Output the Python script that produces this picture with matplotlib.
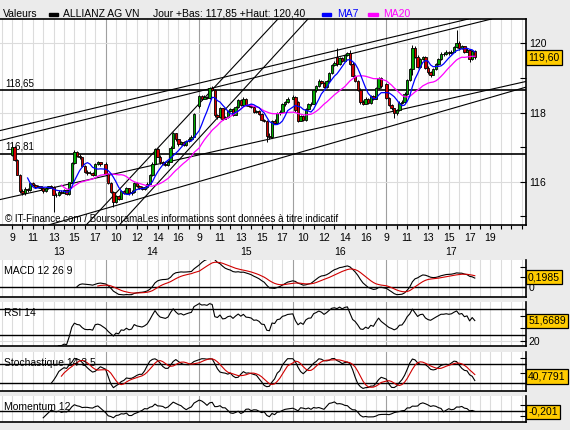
import numpy as np
import pandas as pd
import matplotlib
matplotlib.use("Agg")
import matplotlib.pyplot as plt
from matplotlib.patches import Rectangle
from matplotlib.transforms import blended_transform_factory

plt.rcParams["font.family"] = ["Liberation Sans", "DejaVu Sans"]

W, H = 570, 430
BG = "#EBEBEB"
GRID = "#DCDCDC"
DAY_GRID = "#A0A0A0"
GREEN = "#00AA00"
RED = "#D00000"
BOX = "#FFCC00"

# --- data: ALLIANZ AG VN, 15 min candles, 5 sessions ---
days = ["13", "14", "15", "16", "17"]
candle_hours = [9 + 0.25 * k for k in range(35)]  # 9:00 .. 17:30

opens = [
    116.78, 117.00, 116.62, 116.20, 115.72, 115.66, 115.78, 115.74, 115.95, 115.90, 115.84, 115.86,
    115.80, 115.72, 115.80, 115.86, 115.84, 115.62, 115.60, 115.70, 115.68, 115.74, 115.64, 115.98,
    116.55, 116.86, 116.74, 116.70, 116.45, 116.28, 116.25, 116.26, 116.20, 116.52, 116.56,
    116.50, 116.22, 115.95, 115.70, 115.42, 115.58, 115.50, 115.72, 115.68, 115.80, 115.66, 115.70,
    115.96, 115.86, 115.82, 115.78, 115.84, 115.94, 116.18, 116.52, 116.94, 116.72, 116.56, 116.52,
    116.48, 116.58, 116.98, 117.40, 117.22, 117.08, 117.14, 117.06, 117.16, 117.24, 117.30,
    118.18, 118.48, 118.40, 118.45, 118.42, 118.70, 118.66, 117.92, 117.86, 118.12, 117.82, 117.86,
    118.04, 118.10, 117.94, 118.16, 118.36, 118.22, 118.40, 118.22, 118.20, 118.16, 118.02, 118.04,
    117.96, 117.78, 117.76, 117.32, 117.28, 117.74, 117.70, 117.98, 118.02, 118.24, 118.30,
    118.40, 118.45, 118.30, 117.76, 117.90, 117.78, 118.10, 118.24, 118.26, 118.64, 118.76, 118.92,
    118.86, 118.74, 118.90, 119.14, 119.38, 119.60, 119.40, 119.58, 119.50, 119.66, 119.72, 119.42,
    119.06, 118.92, 118.66, 118.30, 118.26, 118.40, 118.28, 118.48, 118.40, 118.70, 119.00,
    118.84, 118.42, 118.22, 118.12, 117.98, 118.06, 118.28, 118.30, 118.55, 118.95, 119.25, 119.88,
    119.62, 119.32, 119.55, 119.60, 119.30, 119.16, 119.10, 119.25, 119.40, 119.55, 119.70, 119.70,
    119.75, 119.72, 119.76, 119.90, 120.02, 119.86, 119.92, 119.76, 119.82, 119.55, 119.78,
]
highs = [
    117.05, 117.04, 116.66, 116.22, 115.78, 115.84, 115.82, 115.98, 115.98, 115.92, 115.90, 115.88,
    115.82, 115.84, 115.88, 115.90, 115.86, 115.66, 115.74, 115.74, 115.78, 115.76, 116.00, 116.58,
    116.90, 116.88, 116.80, 116.72, 116.48, 116.32, 116.30, 116.28, 116.55, 116.60, 116.58,
    116.56, 116.26, 115.98, 115.72, 115.62, 115.62, 115.76, 115.76, 115.84, 115.82, 115.74, 116.00,
    115.98, 115.90, 115.86, 115.88, 115.98, 116.22, 116.56, 116.98, 116.96, 116.76, 116.60, 116.56,
    116.62, 117.02, 117.44, 117.42, 117.24, 117.18, 117.16, 117.20, 117.28, 117.34, 118.00,
    118.52, 118.50, 118.50, 118.48, 118.74, 118.76, 118.68, 117.96, 118.16, 118.14, 117.90, 118.08,
    118.14, 118.12, 118.20, 118.40, 118.38, 118.44, 118.42, 118.26, 118.24, 118.18, 118.08, 118.06,
    117.98, 117.82, 117.78, 117.40, 117.78, 117.80, 118.02, 118.06, 118.28, 118.34, 118.44,
    118.50, 118.48, 118.34, 117.94, 117.92, 118.14, 118.28, 118.30, 118.68, 118.80, 118.96, 118.94,
    118.88, 118.94, 119.18, 119.42, 119.50, 119.87, 119.62, 119.60, 119.70, 119.76, 119.80, 119.46,
    119.10, 118.94, 118.70, 118.36, 118.44, 118.42, 118.52, 118.50, 118.74, 119.04, 119.02,
    118.86, 118.44, 118.24, 118.14, 118.10, 118.32, 118.36, 118.58, 118.98, 119.28, 119.95, 119.94,
    119.66, 119.58, 119.64, 119.64, 119.34, 119.20, 119.28, 119.44, 119.58, 119.74, 119.74, 119.80,
    119.78, 119.80, 119.94, 120.40, 120.06, 119.96, 119.94, 119.86, 119.84, 119.82, 119.80,
]
lows = [
    116.74, 116.60, 116.18, 115.68, 115.60, 115.62, 115.70, 115.72, 115.86, 115.80, 115.80, 115.76,
    115.68, 115.70, 115.78, 115.80, 115.12, 115.55, 115.58, 115.64, 115.66, 115.60, 115.62, 115.96,
    116.52, 116.70, 116.66, 116.42, 116.24, 116.20, 116.22, 116.16, 116.18, 116.48, 116.46,
    116.20, 115.92, 115.68, 115.25, 115.38, 115.46, 115.48, 115.64, 115.66, 115.62, 115.62, 115.68,
    115.84, 115.78, 115.74, 115.76, 115.82, 115.92, 116.16, 116.50, 116.70, 116.52, 116.48, 116.44,
    116.46, 116.56, 116.96, 117.18, 117.04, 117.06, 117.02, 117.04, 117.14, 117.20, 117.28,
    118.14, 118.36, 118.38, 118.38, 118.40, 118.62, 117.88, 117.82, 117.84, 117.78, 117.80, 117.84,
    118.02, 117.90, 117.92, 118.14, 118.20, 118.20, 118.20, 118.16, 118.12, 117.98, 118.00, 117.92,
    117.74, 117.72, 117.15, 117.24, 117.26, 117.66, 117.68, 117.94, 118.00, 118.20, 118.28,
    118.38, 118.02, 117.72, 117.74, 117.74, 117.76, 118.08, 118.20, 118.24, 118.60, 118.74, 118.82,
    118.70, 118.72, 118.88, 119.12, 119.36, 119.36, 119.38, 119.46, 119.48, 119.64, 119.38, 119.02,
    118.88, 118.62, 118.26, 118.22, 118.24, 118.24, 118.26, 118.36, 118.38, 118.68, 118.72,
    118.40, 118.20, 118.08, 117.85, 117.94, 118.04, 118.24, 118.28, 118.52, 118.92, 119.10, 119.58,
    119.28, 119.30, 119.52, 119.26, 119.12, 119.02, 119.08, 119.22, 119.38, 119.52, 119.64, 119.68,
    119.66, 119.70, 119.74, 119.88, 119.82, 119.84, 119.72, 119.74, 119.45, 119.52, 119.56,
]
closes = [
    117.00, 116.62, 116.20, 115.72, 115.66, 115.78, 115.74, 115.95, 115.90, 115.84, 115.86, 115.80,
    115.72, 115.80, 115.86, 115.84, 115.62, 115.60, 115.70, 115.68, 115.74, 115.64, 115.98, 116.55,
    116.86, 116.74, 116.70, 116.45, 116.28, 116.25, 116.26, 116.20, 116.52, 116.56, 116.50,
    116.22, 115.95, 115.70, 115.42, 115.58, 115.50, 115.72, 115.68, 115.80, 115.66, 115.70, 115.96,
    115.86, 115.82, 115.78, 115.84, 115.94, 116.18, 116.52, 116.94, 116.72, 116.56, 116.52, 116.48,
    116.58, 116.98, 117.40, 117.22, 117.08, 117.14, 117.06, 117.16, 117.24, 117.30, 117.96,
    118.48, 118.40, 118.45, 118.42, 118.70, 118.66, 117.92, 117.86, 118.12, 117.82, 117.86, 118.04,
    118.10, 117.94, 118.16, 118.36, 118.22, 118.40, 118.22, 118.20, 118.16, 118.02, 118.04, 117.96,
    117.78, 117.76, 117.32, 117.28, 117.74, 117.70, 117.98, 118.02, 118.24, 118.30, 118.40,
    118.45, 118.06, 117.76, 117.90, 117.78, 118.10, 118.24, 118.26, 118.64, 118.76, 118.92, 118.86,
    118.74, 118.90, 119.14, 119.38, 119.44, 119.40, 119.58, 119.50, 119.66, 119.72, 119.42, 119.06,
    118.92, 118.66, 118.30, 118.26, 118.40, 118.28, 118.48, 118.40, 118.70, 119.00, 118.76,
    118.42, 118.22, 118.12, 117.98, 118.06, 118.28, 118.30, 118.55, 118.95, 119.25, 119.88, 119.62,
    119.32, 119.55, 119.60, 119.30, 119.16, 119.10, 119.25, 119.40, 119.55, 119.70, 119.70, 119.75,
    119.72, 119.76, 119.90, 120.02, 119.86, 119.92, 119.76, 119.82, 119.55, 119.78, 119.60,
]

# support / resistance levels and drawn trend lines (time slot, price)
levels = [118.65, 116.81]
trend_lines = [
    ((-0.96, 117.49), (35.38, 120.10)),
    ((-0.96, 117.20), (35.38, 119.91)),
    ((-0.96, 115.49), (49.13, 118.88)),
    ((16.15, 115.84), (49.13, 118.71)),
    ((8.46, 115.17), (25.48, 120.68)),
    ((11.63, 115.17), (28.37, 120.68)),
]

# last values shown in the boxes
last_price = 119.60
last_macd = 0.1985
last_rsi = 51.6689
last_stoch = 40.7791
last_mom = -0.201


def px_rect(x0, y0, x1, y1):
    """Pixel box (top-left origin) -> figure fraction rect."""
    return [x0 / W, 1 - y1 / H, (x1 - x0) / W, (y1 - y0) / H]


def fmt(v, nd):
    return f"{v:.{nd}f}".replace(".", ",")


df = pd.DataFrame({"open": opens, "high": highs, "low": lows, "close": closes})
df["day"] = np.repeat(np.arange(len(days)), len(candle_hours))
df["hour"] = np.tile(candle_hours, len(days))
df["t"] = df["day"] * 9 + (df["hour"] - 9)

c = df["close"]
ma7 = c.rolling(7).mean()
ma20 = c.rolling(20).mean()

macd = c.ewm(span=12, adjust=False).mean() - c.ewm(span=26, adjust=False).mean()
signal = macd.ewm(span=9, adjust=False).mean()
macd[:25] = np.nan
signal[:33] = np.nan

delta = c.diff()
gain = delta.clip(lower=0).ewm(alpha=1 / 14, adjust=False).mean()
loss = (-delta.clip(upper=0)).ewm(alpha=1 / 14, adjust=False).mean()
rsi = 100 - 100 / (1 + gain / loss)
rsi[:14] = np.nan

ll = df["low"].rolling(14).min()
hh = df["high"].rolling(14).max()
stoch_k = (100 * (c - ll) / (hh - ll)).rolling(3).mean()
stoch_d = stoch_k.rolling(5).mean()

mom = c - c.shift(12)

XMIN, XMAX = -12 / 10.4, 514 / 10.4

fig = plt.figure(figsize=(W / 100, H / 100), dpi=100, facecolor=BG)


def setup_panel(ax, ylim):
    ax.set_facecolor("white")
    ax.set_xlim(XMIN, XMAX)
    ax.set_ylim(*ylim)
    ax.spines["left"].set_visible(False)
    ax.spines["top"].set_visible(False)
    for s in ("right", "bottom"):
        ax.spines[s].set_linewidth(1.2)
    for t in range(-1, 50):
        ax.axvline(t, color=DAY_GRID if t in (9, 18, 27, 36) else GRID, lw=0.8, zorder=0)
    ax.yaxis.tick_right()
    ax.tick_params(axis="y", direction="in", length=4, width=0.8, labelsize=7.5, pad=2)
    ax.set_xticks([])


# --- main price panel ---
ax = fig.add_axes(px_rect(0, 19, 526, 225))
setup_panel(ax, (114.74, 120.71))
ax.spines["top"].set_visible(True)
ax.spines["top"].set_linewidth(1.2)
for lv in (116, 118, 120):
    ax.axhline(lv, color=GRID, lw=0.8, zorder=0)
ax.set_yticks([115, 116, 117, 118, 119, 120])
ax.set_yticklabels(["", "116", "", "118", "", "120"])

tick_pos = np.arange(0, 50)
tick_lab = []
for t in tick_pos:
    d = min(t // 9, 4)
    tick_lab.append(str(9 + t - 9 * d) if (t % 2 == 0 and t <= 46) else "")
ax.set_xticks(tick_pos)
ax.set_xticklabels(tick_lab)
ax.tick_params(axis="x", direction="out", length=3, width=0.8, labelsize=7.5, pad=3)

xt = ax.get_xaxis_transform()
day_centers = [4.5, 13.5, 22.5, 31.5, (36 + XMAX) / 2 - 0.5]
for name, xc in zip(days, day_centers):
    ax.text(xc, -0.13, name, transform=xt, ha="center", va="center", fontsize=7.5)

for lv in levels:
    ax.axhline(lv, color="black", lw=1.2, zorder=3)
    ax.text(XMIN + 0.5, lv + 0.06, fmt(lv, 2), fontsize=7, ha="left", va="bottom", zorder=2)
for p1, p2 in trend_lines:
    ax.axline(p1, p2, color="black", lw=0.8, zorder=3)

up = df["close"] >= df["open"]
body_lo = np.minimum(df["open"], df["close"])
body_h = np.maximum((df["close"] - df["open"]).abs(), 0.008)
ax.vlines(df["t"], df["low"], df["high"], color="black", lw=0.7, zorder=4)
ax.bar(df["t"], body_h, bottom=body_lo, width=0.24,
       color=np.where(up, GREEN, RED), edgecolor="black", linewidth=0.6, zorder=5)
ax.plot(df["t"], ma20, color="#FF00FF", lw=0.9, zorder=6)
ax.plot(df["t"], ma7, color="#0000FF", lw=0.9, zorder=6)

ax.text(5 / 526, 6 / 206, "\u00a9 IT-Finance.com / BoursoramaLes informations sont donn\u00e9es \u00e0 titre indicatif",
        transform=ax.transAxes, fontsize=7, ha="left", va="center", zorder=7)

yt = blended_transform_factory(ax.transAxes, ax.transData)
box = dict(boxstyle="square,pad=0.22", fc=BOX, ec="black", lw=0.9)
ax.text(1.004, last_price, fmt(last_price, 2), transform=yt, fontsize=7.5, ha="left", va="center",
        bbox=box, clip_on=False, zorder=10)

# --- header ---
fig.text(3 / W, 1 - 14 / H, "Valeurs", fontsize=7.5, va="center")
fig.patches.append(Rectangle((49 / W, 1 - 16 / H), 9 / W, 3 / H, color="black", transform=fig.transFigure))
fig.text(63 / W, 1 - 14 / H, "ALLIANZ AG VN", fontsize=7.5, va="center")
fig.text(153 / W, 1 - 14 / H, "Jour +Bas: 117,85 +Haut: 120,40", fontsize=7.5, va="center")
fig.patches.append(Rectangle((322 / W, 1 - 16 / H), 9 / W, 3 / H, color="#0000FF", transform=fig.transFigure))
fig.text(337 / W, 1 - 14 / H, "MA7", fontsize=7.5, va="center", color="#0000FF")
fig.patches.append(Rectangle((368 / W, 1 - 16 / H), 10 / W, 3 / H, color="#FF00FF", transform=fig.transFigure))
fig.text(383 / W, 1 - 14 / H, "MA20", fontsize=7.5, va="center", color="#FF00FF")

# --- indicator panels ---
panels = [
    ("MACD 12 26 9", (260, 297), (-0.2, 0.54)),
    ("RSI 14", (302, 345.7), (13.5, 80.8)),
    ("Stochastique 14 3 5", (352, 391), (-5.4, 117.8)),
    ("Momentum 12", (396, 421.7), (-2.0, 2.75)),
]
axes = []
for title, (y0, y1), ylim in panels:
    a = fig.add_axes(px_rect(0, y0, 526, y1))
    setup_panel(a, ylim)
    a.text(4 / 526, 1 - 10.5 / (y1 - y0), title, transform=a.transAxes, fontsize=7.5,
           ha="left", va="center", zorder=7)
    axes.append(a)
ax_macd, ax_rsi, ax_sto, ax_mom = axes

ax_macd.axhline(0, color="black", lw=1.0, zorder=2)
ax_macd.plot(df["t"], macd, color="black", lw=0.8, zorder=4)
ax_macd.plot(df["t"], signal, color=RED, lw=0.8, zorder=4)
ax_macd.set_yticks([0, 0.2, 0.4])
ax_macd.set_yticklabels(["0", "", ""])

for lv in (30, 70):
    ax_rsi.axhline(lv, color="black", lw=1.0, zorder=2)
ax_rsi.axhline(20, color=GRID, lw=0.8, zorder=0)
ax_rsi.plot(df["t"], rsi, color="black", lw=0.8, zorder=4)
ax_rsi.set_yticks([20, 40, 60])
ax_rsi.set_yticklabels(["20", "", ""])

for lv in (20, 80):
    ax_sto.axhline(lv, color="black", lw=1.0, zorder=2)
ax_sto.plot(df["t"], stoch_k, color="black", lw=0.8, zorder=4)
ax_sto.plot(df["t"], stoch_d, color=RED, lw=0.8, zorder=4)
ax_sto.set_yticks([20, 50, 80, 100])
ax_sto.set_yticklabels([])

ax_mom.axhline(0, color="black", lw=1.0, zorder=2)
ax_mom.plot(df["t"], mom, color="black", lw=0.8, zorder=4)
ax_mom.set_yticks([-1, 1])
ax_mom.set_yticklabels([])

for a, val, nd in ((ax_macd, last_macd, 4), (ax_rsi, last_rsi, 4), (ax_sto, last_stoch, 4), (ax_mom, last_mom, 3)):
    tr = blended_transform_factory(a.transAxes, a.transData)
    a.text(1.004, val, fmt(val, nd), transform=tr, fontsize=7.5, ha="left", va="center",
           bbox=box, clip_on=False, zorder=10)

fig.savefig("out.png", dpi=100, facecolor=BG)
